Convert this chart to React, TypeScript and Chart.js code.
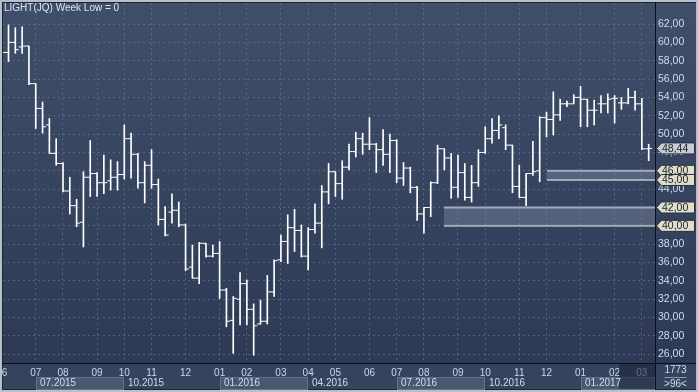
import React, { useEffect, useRef } from 'react';
import { Chart, registerables } from 'chart.js';

Chart.register(...registerables);

const FONT = '"Liberation Sans", Arial, sans-serif';

// Weekly OHLC (week index 0..95)
const opens = [
  59.0, 58.9, 60.0, 59.5, 59.6, 55.5, 52.8, 51.0, 47.9, 46.8,
  43.8, 42.2, 40.4, 45.3, 45.7, 44.7, 44.9, 45.3, 45.6, 49.5,
  47.8, 44.7, 46.6, 44.5, 40.7, 41.5, 41.7, 40.1, 35.5, 34.3,
  38.1, 36.7, 37.0, 33.0, 29.7, 32.0, 33.7, 30.9, 29.3, 29.6,
  32.8, 36.3, 38.3, 39.8, 39.5, 36.7, 39.6, 40.3, 43.7, 45.9,
  44.6, 46.4, 48.1, 49.5, 48.9, 48.9, 48.3, 47.8, 49.3, 45.2,
  46.3, 44.2, 41.3, 42.0, 44.7, 48.4, 47.4, 44.2, 45.8, 43.1,
  44.7, 48.0, 49.5, 50.4, 50.7, 48.8, 44.3, 43.1, 45.7, 46.0,
  51.8, 51.6, 52.1, 53.3, 53.3, 54.0, 53.8, 52.6, 53.3, 53.3,
  53.9, 53.4, 53.4, 54.0, 53.3, 48.4,
];
const highs = [
  59.3, 61.9, 61.6, 61.7, 59.6, 55.5, 53.5, 51.7, 49.5, 46.9,
  45.3, 42.9, 45.9, 49.3, 45.8, 47.7, 47.2, 47.0, 51.0, 50.1,
  47.9, 47.0, 48.3, 45.1, 42.1, 43.5, 42.6, 40.2, 37.9, 38.2,
  38.1, 37.9, 38.3, 33.2, 32.3, 34.9, 34.1, 31.5, 31.9, 34.6,
  36.3, 39.0, 41.2, 41.8, 40.1, 39.8, 42.4, 44.4, 46.8, 45.9,
  47.1, 48.9, 50.2, 50.1, 51.8, 49.0, 50.5, 50.0, 49.4, 46.9,
  46.4, 44.3, 42.0, 44.8, 48.8, 48.4, 47.9, 47.7, 46.8, 46.6,
  48.3, 50.8, 51.7, 52.0, 51.0, 48.8, 46.6, 45.7, 49.2, 51.9,
  52.4, 54.6, 53.8, 53.6, 54.3, 55.2, 53.8, 53.7, 54.2, 54.4,
  54.2, 54.0, 55.0, 54.7, 53.9, 48.9,
];
const lows = [
  58.6, 57.9, 58.8, 58.8, 55.4, 50.6, 50.1, 47.9, 46.6, 43.7,
  41.3, 39.9, 37.7, 43.2, 43.2, 43.5, 43.9, 43.9, 45.1, 45.2,
  44.1, 42.5, 44.1, 40.1, 38.9, 40.3, 39.9, 35.1, 34.3, 33.7,
  36.6, 36.6, 32.1, 29.0, 26.1, 29.2, 29.2, 25.9, 29.3, 29.3,
  32.3, 36.1, 35.9, 37.2, 36.6, 35.2, 39.2, 37.6, 42.4, 43.2,
  42.9, 46.1, 47.5, 47.8, 48.3, 45.8, 46.6, 45.8, 44.7, 44.4,
  43.6, 40.6, 39.2, 41.0, 44.6, 46.1, 43.0, 43.1, 42.8, 42.6,
  44.3, 47.9, 49.0, 49.5, 48.3, 43.6, 43.1, 42.2, 45.5, 44.8,
  49.7, 49.9, 51.5, 53.0, 53.3, 50.8, 50.8, 51.0, 52.3, 52.3,
  51.2, 52.7, 53.3, 52.6, 48.3, 47.1,
];
const closes = [
  58.9, 60.0, 59.2, 59.6, 55.5, 52.8, 50.8, 47.9, 46.8, 43.8,
  42.2, 40.3, 45.3, 45.7, 44.7, 44.7, 45.3, 45.6, 49.5, 47.8,
  44.7, 46.6, 44.5, 40.7, 39.0, 41.7, 40.1, 35.3, 34.3, 38.1,
  36.7, 37.0, 33.0, 29.6, 32.1, 33.7, 30.9, 29.1, 29.6, 32.8,
  36.2, 38.3, 39.8, 39.5, 36.7, 39.6, 40.3, 43.7, 45.9, 44.6,
  46.4, 48.1, 49.5, 48.9, 48.9, 48.3, 47.8, 49.3, 45.2, 46.3,
  44.2, 41.3, 42.0, 44.7, 48.4, 47.4, 44.2, 45.8, 43.1, 44.7,
  48.0, 49.5, 50.4, 51.0, 48.8, 44.3, 43.1, 45.7, 45.9, 51.8,
  51.6, 52.1, 53.3, 53.3, 54.0, 53.8, 52.6, 52.6, 53.3, 53.8,
  53.9, 53.4, 54.0, 53.3, 48.4, 48.44,
];

const monthTickIndex = [0, 5, 9, 14, 18, 22, 27, 32, 36, 41, 45, 49, 54, 58, 62, 67, 71, 76, 80, 85, 90, 94];
const monthTickLabels = ['06', '07', '08', '09', '10', '11', '12', '01', '02', '03', '04', '05', '06', '07', '08', '09', '10', '11', '12', '01', '02', '03'];
const quarterIndex = [5, 18, 32, 45, 58, 71, 85];
const quarterLabels = ['07.2015', '10.2015', '01.2016', '04.2016', '07.2016', '10.2016', '01.2017'];
const yTickValues = [26, 28, 30, 32, 34, 36, 38, 40, 42, 44, 46, 48, 50, 52, 54, 56, 58, 60, 62];

const zoneStart = [80, 65];
const zoneTop = [46, 42];
const zoneBottom = [45, 40];
const levelTags = [46, 45, 42, 40];
const lastPrice = 48.44;
const titleText = 'LIGHT(JQ) Week Low = 0';
const totalBarsText = '1773';
const visibleBarsText = '>96<';
const scrollFrom = 90.6;

const fmt = (v: number) => v.toFixed(2).replace('.', ',');

function drawTag(ctx: CanvasRenderingContext2D, y: number, text: string, fill: string, left: number, right: number) {
  const h = 11;
  const tip = 5;
  ctx.beginPath();
  ctx.moveTo(left, y);
  ctx.lineTo(left + tip, y - h / 2);
  ctx.lineTo(right, y - h / 2);
  ctx.lineTo(right, y + h / 2);
  ctx.lineTo(left + tip, y + h / 2);
  ctx.closePath();
  ctx.fillStyle = fill;
  ctx.fill();
  ctx.strokeStyle = '#2a303c';
  ctx.lineWidth = 1;
  ctx.stroke();
  ctx.fillStyle = '#1a1e26';
  ctx.font = `10.5px ${FONT}`;
  ctx.textAlign = 'left';
  ctx.textBaseline = 'middle';
  ctx.fillText(text, left + tip + 0.5, y + 0.5);
}

const decorPlugin = {
  id: 'decor',
  beforeDraw(chart: any) {
    const { ctx, chartArea: ca } = chart;
    const W = chart.width;
    const H = chart.height;
    const xs = chart.scales.x;
    ctx.save();
    ctx.fillStyle = '#b7bfcb';
    ctx.fillRect(0, 0, W, H);
    ctx.fillStyle = '#1c2436';
    ctx.fillRect(2, 2, W - 4, H - 4);
    const g = ctx.createLinearGradient(0, ca.top, 0, ca.bottom);
    g.addColorStop(0, '#3f4e69');
    g.addColorStop(1, '#2e3a55');
    ctx.fillStyle = g;
    ctx.fillRect(3, 3, W - 5, ca.bottom - 3);
    ctx.fillStyle = '#36435d';
    ctx.fillRect(3, ca.bottom + 1, W - 5, H - 3 - (ca.bottom + 1));
    for (let k = 0; k < quarterIndex.length; k++) {
      if (k % 2 !== 0) continue;
      const x0 = Math.round(xs.getPixelForValue(quarterIndex[k]));
      const x1 = k + 1 < quarterIndex.length ? Math.round(xs.getPixelForValue(quarterIndex[k + 1])) : ca.right;
      ctx.fillStyle = '#4a5771';
      ctx.fillRect(x0, 377, x1 - x0, 13);
      ctx.strokeStyle = '#66728a';
      ctx.lineWidth = 1;
      ctx.strokeRect(x0 + 0.5, 377.5, x1 - x0 - 1, 12);
    }
    ctx.restore();
  },
  beforeDatasetsDraw(chart: any) {
    const { ctx, chartArea: ca } = chart;
    const xs = chart.scales.x;
    const ys = chart.scales.y;
    ctx.save();
    for (let k = 0; k < zoneStart.length; k++) {
      const x0 = Math.round(xs.getPixelForValue(zoneStart[k]));
      const yt = ys.getPixelForValue(zoneTop[k]);
      const yb = ys.getPixelForValue(zoneBottom[k]);
      ctx.fillStyle = 'rgba(135,146,168,0.4)';
      ctx.fillRect(x0, yt, ca.right - x0, yb - yt);
      ctx.fillStyle = '#a3aab7';
      ctx.fillRect(x0, yt - 1, ca.right - x0, 2);
      ctx.fillRect(x0, yb - 1, ca.right - x0, 2);
    }
    ctx.restore();
  },
  afterDraw(chart: any) {
    const { ctx, chartArea: ca } = chart;
    const W = chart.width;
    const H = chart.height;
    const xs = chart.scales.x;
    const ys = chart.scales.y;
    ctx.save();
    const sx = Math.round(xs.getPixelForValue(scrollFrom));
    ctx.fillStyle = 'rgba(28,38,60,0.6)';
    ctx.fillRect(sx, ca.bottom + 1, ca.right - sx, H - 3 - (ca.bottom + 1));
    ctx.font = `10px ${FONT}`;
    ctx.fillStyle = '#cfdcf0';
    ctx.textAlign = 'left';
    ctx.textBaseline = 'middle';
    for (let k = 0; k < quarterIndex.length; k++) {
      const x0 = Math.round(xs.getPixelForValue(quarterIndex[k]));
      ctx.fillText(quarterLabels[k], x0 + 4, 383.5);
    }
    ctx.fillStyle = '#0b0f18';
    ctx.fillRect(ca.right, 2, 1, H - 4);
    ctx.fillRect(2, ca.bottom, W - 4, 1);
    ctx.fillStyle = '#36435d';
    ctx.fillRect(ca.right + 1, ca.bottom + 1, W - 3 - ca.right - 1, H - 3 - ca.bottom - 1);
    ctx.fillStyle = '#cfdcf0';
    ctx.font = `10px ${FONT}`;
    ctx.textAlign = 'center';
    const cx = (ca.right + W - 2) / 2;
    ctx.fillText(totalBarsText, cx, 370.5);
    ctx.fillStyle = '#8d98ab';
    ctx.fillRect(cx - 11, 377, 22, 1);
    ctx.fillStyle = '#cfdcf0';
    ctx.fillText(visibleBarsText, cx, 384);
    const left = ca.right + 1.5;
    const right = W - 3.5;
    drawTag(ctx, ys.getPixelForValue(lastPrice), fmt(lastPrice), '#c7cbd3', left, right);
    for (const lv of levelTags) {
      drawTag(ctx, ys.getPixelForValue(lv), fmt(lv), '#dedecb', left, right);
    }
    ctx.font = `10px ${FONT}`;
    ctx.fillStyle = '#dbe4f3';
    ctx.textAlign = 'left';
    ctx.textBaseline = 'middle';
    ctx.fillText(titleText, 4, 8.5);
    ctx.fillStyle = '#b7bfcb';
    ctx.fillRect(0, 0, 2, H);
    ctx.fillRect(0, 0, W, 2);
    ctx.fillRect(0, H - 2, W, 2);
    ctx.fillRect(W - 2, 0, 2, H);
    ctx.restore();
  },
};

export default function App() {
  const ref = useRef<HTMLCanvasElement>(null);
  useEffect(() => {
    document.body.style.margin = '0';
    const canvas = ref.current!;
    const gridColor = 'rgba(105,122,155,0.6)';
    const chart = new Chart(canvas, {
      type: 'bar',
      data: {
        datasets: [
          {
            type: 'bar',
            data: highs.map((h, i) => ({ x: i, y: [lows[i], h] })) as any,
            backgroundColor: '#ffffff',
            borderWidth: 0,
            barThickness: 1,
            grouped: false,
          } as any,
          {
            type: 'scatter',
            data: opens.map((o, i) => ({ x: i - 0.25, y: o })),
            pointStyle: 'line',
            pointRadius: 1.75,
            pointHoverRadius: 1.75,
            pointBorderColor: '#ffffff',
            pointBorderWidth: 1,
            pointBackgroundColor: '#ffffff',
          } as any,
          {
            type: 'scatter',
            data: closes.map((c, i) => ({ x: i + 0.25, y: c })),
            pointStyle: 'line',
            pointRadius: 1.75,
            pointHoverRadius: 1.75,
            pointBorderColor: '#ffffff',
            pointBorderWidth: 1,
            pointBackgroundColor: '#ffffff',
          } as any,
        ],
      },
      options: {
        responsive: false,
        animation: false,
        events: [],
        devicePixelRatio: 1,
        layout: { padding: { left: 3, top: 3, right: 0, bottom: 0 } },
        plugins: { legend: { display: false }, tooltip: { enabled: false } },
        scales: {
          x: {
            type: 'linear',
            min: 0.191,
            max: 95.93,
            offset: false,
            position: 'bottom',
            grid: { color: gridColor, lineWidth: 1, drawTicks: false, offset: false, borderDash: [2, 3] } as any,
            border: { display: false, dash: [2, 3] },
            afterFit: (s: any) => { s.height = 29; s.paddingLeft = 0; s.paddingRight = 0; },
            afterBuildTicks: (s: any) => { s.ticks = monthTickIndex.map((v) => ({ value: v })); },
            ticks: {
              autoSkip: false,
              maxRotation: 0,
              minRotation: 0,
              padding: 4,
              color: '#c8d6ee',
              font: { family: FONT, size: 10 },
              callback: (_v: any, idx: number) => monthTickLabels[idx],
            },
          },
          y: {
            type: 'linear',
            position: 'right',
            min: 25.052,
            max: 64.289,
            grid: { color: gridColor, lineWidth: 1, drawTicks: false, borderDash: [2, 3] } as any,
            border: { display: false, dash: [2, 3] },
            afterFit: (s: any) => { s.width = 43; s.paddingTop = 0; s.paddingBottom = 0; },
            afterBuildTicks: (s: any) => { s.ticks = yTickValues.map((v) => ({ value: v })); },
            ticks: {
              padding: 3,
              color: '#cddcf2',
              font: { family: FONT, size: 10.5 },
              callback: (v: any) => fmt(Number(v)),
            },
          },
        },
      } as any,
      plugins: [decorPlugin as any],
    });
    return () => chart.destroy();
  }, []);
  return <canvas ref={ref} width={698} height={392} style={{ display: 'block', width: 698, height: 392 }} />;
}
